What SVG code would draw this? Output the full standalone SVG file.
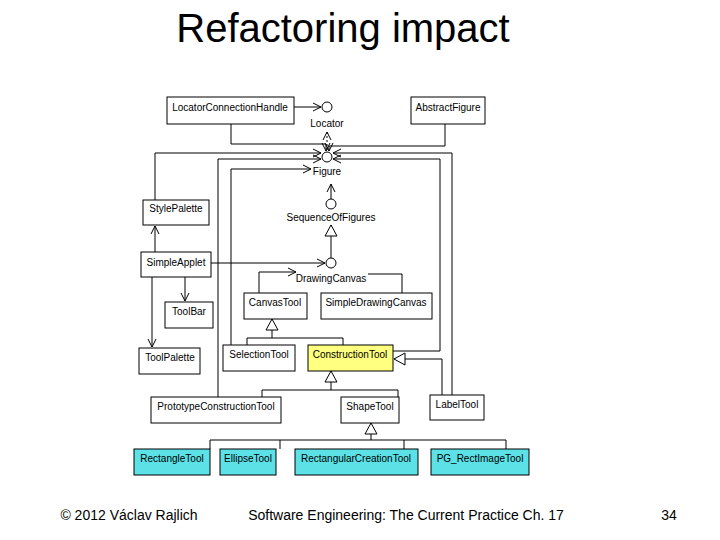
<svg xmlns="http://www.w3.org/2000/svg" width="720" height="540" viewBox="0 0 720 540">
<style>
.b{fill:#fff;stroke:#000;stroke-width:1}
.y{fill:#ffff80;stroke:#000}
.c{fill:#5ce1e6;stroke:#000}
text{font-family:"Liberation Sans",Arial,sans-serif;font-size:10px;fill:#000}
.t{text-anchor:middle}
.l{fill:none;stroke:#000;stroke-width:1}
.ci{fill:#fff;stroke:#000}
.f{font-size:14px}
</style>
<defs>
<marker id="o" markerWidth="10" markerHeight="10" refX="9" refY="5" orient="auto" markerUnits="userSpaceOnUse"><path d="M1,1 L9,5 L1,9" fill="none" stroke="#000"/></marker>
<marker id="tr" markerWidth="14" markerHeight="14" refX="12" refY="7" orient="auto" markerUnits="userSpaceOnUse"><path d="M1,1 L12,7 L1,13 Z" fill="#fff" stroke="#000"/></marker>
</defs>
<rect width="720" height="540" fill="#fff"/>
<text x="343" y="42" class="t" style="font-size:40px">Refactoring impact</text>
<g id="connectors" class="l">
<path d="M294,107 H321" marker-end="url(#o)"/>
<path d="M231,124 V144 H326 V151" marker-end="url(#o)"/>
<path d="M445,124 V146 H329 V151" marker-end="url(#o)"/>
<path d="M327,150 V132" stroke-dasharray="2,2" marker-end="url(#o)"/>
<path d="M155,200 V153 H321" marker-end="url(#o)"/>
<path d="M452,395 V153 H333" marker-end="url(#o)"/>
<path d="M218,397 V159 H321" marker-end="url(#o)"/>
<path d="M393,351 H440 V159 H333" marker-end="url(#o)"/>
<path d="M231,345 V169 H311" marker-end="url(#o)"/>
<path d="M155,252 V226" marker-end="url(#o)"/>
<path d="M211,263 H325" marker-end="url(#o)"/>
<path d="M152,277 V347" marker-end="url(#o)"/>
<path d="M185,277 V301" marker-end="url(#o)"/>
<path d="M331,199 V184" marker-end="url(#o)"/>
<path d="M331,258 V225" marker-end="url(#tr)"/>
<path d="M259,293 V272 H296" marker-end="url(#o)"/>
<path d="M402,293 V274 H368"/>
<path d="M247,345 V338 H343 V345 M272,338 V319" marker-end="url(#tr)"/>
<path d="M442,395 V359 H394" marker-end="url(#tr)"/>
<path d="M262,397 V390 H398 V397 M331,390 V371" marker-end="url(#tr)"/>
<path d="M210,449 V440 H506 V449 M280,440 V449 M404,440 V449 M371,440 V423" marker-end="url(#tr)"/>
</g>
<g id="Locator"><circle cx="327" cy="107" r="5" class="ci"/><text x="327" y="127" class="t">Locator</text></g>
<g id="Figure"><circle cx="327" cy="157" r="5" class="ci"/><text x="327" y="175" class="t">Figure</text></g>
<g id="SequenceOfFigures"><circle cx="331" cy="204" r="5" class="ci"/><text x="331" y="221" class="t">SequenceOfFigures</text></g>
<g id="DrawingCanvas"><circle cx="331" cy="263" r="5" class="ci"/><text x="331" y="282" class="t">DrawingCanvas</text></g>
<g id="LocatorConnectionHandle"><rect x="167" y="97" width="127" height="27" class="b"/><text x="230" y="111" class="t">LocatorConnectionHandle</text></g>
<g id="AbstractFigure"><rect x="411" y="97" width="74" height="27" class="b"/><text x="448" y="111" class="t">AbstractFigure</text></g>
<g id="StylePalette"><rect x="143" y="200" width="66" height="25" class="b"/><text x="176" y="212" class="t">StylePalette</text></g>
<g id="SimpleApplet"><rect x="141" y="252" width="70" height="25" class="b"/><text x="176" y="266" class="t">SimpleApplet</text></g>
<g id="CanvasTool"><rect x="244" y="293" width="63" height="26" class="b"/><text x="275" y="306" class="t">CanvasTool</text></g>
<g id="SimpleDrawingCanvas"><rect x="321" y="293" width="111" height="26" class="b"/><text x="376" y="306" class="t">SimpleDrawingCanvas</text></g>
<g id="ToolBar"><rect x="165" y="302" width="48" height="26" class="b"/><text x="189" y="315" class="t">ToolBar</text></g>
<g id="ToolPalette"><rect x="139" y="348" width="61" height="26" class="b"/><text x="170" y="361" class="t">ToolPalette</text></g>
<g id="SelectionTool"><rect x="223" y="345" width="72" height="26" class="b"/><text x="259" y="358" class="t">SelectionTool</text></g>
<g id="ConstructionTool"><rect x="308" y="345" width="85" height="26" class="y"/><text x="350" y="358" class="t">ConstructionTool</text></g>
<g id="PrototypeConstructionTool"><rect x="151" y="397" width="130" height="26" class="b"/><text x="216" y="410" class="t">PrototypeConstructionTool</text></g>
<g id="ShapeTool"><rect x="341" y="397" width="58" height="26" class="b"/><text x="370" y="410" class="t">ShapeTool</text></g>
<g id="LabelTool"><rect x="430" y="395" width="54" height="25" class="b"/><text x="457" y="408" class="t">LabelTool</text></g>
<g id="RectangleTool"><rect x="134" y="449" width="76" height="26" class="c"/><text x="172" y="462" class="t">RectangleTool</text></g>
<g id="EllipseTool"><rect x="220" y="449" width="56" height="26" class="c"/><text x="248" y="462" class="t">EllipseTool</text></g>
<g id="RectangularCreationTool"><rect x="295" y="449" width="123" height="26" class="c"/><text x="356" y="462" class="t">RectangularCreationTool</text></g>
<g id="PG_RectImageTool"><rect x="431" y="449" width="98" height="26" class="c"/><text x="480" y="462" class="t">PG_RectImageTool</text></g>
<text x="129" y="520" class="t f">© 2012 Václav Rajlich</text>
<text x="406" y="520" class="t f">Software Engineering: The Current Practice   Ch. 17</text>
<text x="669" y="520" class="t f">34</text>
</svg>
